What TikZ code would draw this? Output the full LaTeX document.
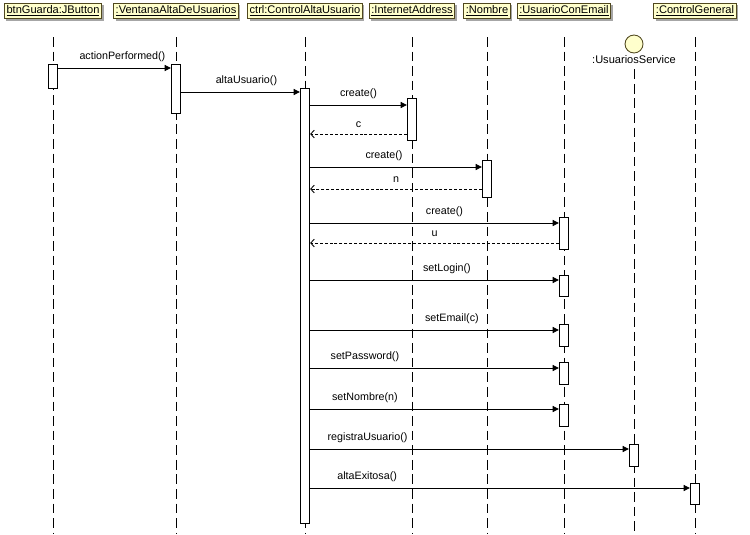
\documentclass[tikz,border=0pt]{standalone}
\usepackage{fontspec}
\setmainfont{Liberation Sans}
\usepackage{tikz}
\usetikzlibrary{arrows.meta, shadows, positioning}

\definecolor{hdrfill}{RGB}{255,255,204}
\definecolor{hdrline}{RGB}{80,72,30}

\begin{document}
\begin{tikzpicture}[x=0.02cm, y=-0.02cm,
    obj/.style={rectangle, draw=hdrline, fill=hdrfill, line width=0.5pt, minimum height=0.3cm, inner sep=1.2pt, font=\fontsize{6.3}{7}\selectfont, drop shadow={shadow xshift=0.04cm, shadow yshift=-0.04cm, fill=gray!70, opacity=1}},
    act/.style={rectangle, draw, fill=white, line width=0.5pt, minimum width=0.19cm, minimum height=#1, inner sep=0},
    life/.style={dash pattern=on 5.5pt off 2.8pt, line width=0.5pt},
    call/.style={-{Triangle[length=3.5pt,width=3.5pt]}, line width=0.5pt},
    ret/.style={-{Straight Barb[length=2pt,width=4.5pt]}, dash pattern=on 1.7pt off 1.1pt, line width=0.5pt},
    msg/.style={above=3pt, inner sep=0.5pt, font=\fontsize{6.1}{7}\selectfont}
]
\useasboundingbox (0,0) rectangle (750,534);

% objects
\node[obj] (btn) at (53,11) {\underline{btnGuarda:JButton}};
\node[obj] (ventana) at (176,11) {\underline{:VentanaAltaDeUsuarios}};
\node[obj] (ctrl) at (305,11) {\underline{ctrl:ControlAltaUsuario}};
\node[obj] (inet) at (412,11) {\underline{:InternetAddress}};
\node[obj] (nombre) at (487,11) {\underline{:Nombre}};
\node[obj] (usuario) at (564,11) {\underline{:UsuarioConEmail}};
\node[obj] (general) at (695,11) {\underline{:ControlGeneral}};
\node[circle, draw=hdrline, fill=hdrfill, line width=0.5pt, minimum size=0.36cm, inner sep=0] (service) at (634,44) {};
\node[below=0pt of service, inner sep=1pt, font=\fontsize{6.3}{7}\selectfont] (servicelbl) {:UsuariosService};

% lifelines
\coordinate (top) at (0,37);
\coordinate (bot) at (0,534);
\foreach \o in {btn,ventana,ctrl,inet,nombre,usuario,general}
    \draw[life] (\o |- top) -- (\o |- bot);
\draw[life] ([yshift=-2pt]servicelbl.south) -- (servicelbl |- bot);

% activations
\node[act=0.48cm] (a1) at (53,76) {};
\node[act=0.98cm] (a2) at (176,88.5) {};
\node[act=8.7cm] (a3) at (305,305.5) {};
\node[act=0.84cm] (a4) at (412,119) {};
\node[act=0.74cm] (a5) at (487,178.5) {};
\node[act=0.64cm] (a6) at (564,233) {};
\node[act=0.42cm] (a7) at (564,285.5) {};
\node[act=0.44cm] (a8) at (564,335) {};
\node[act=0.44cm] (a9) at (564,373) {};
\node[act=0.44cm] (a10) at (564,415) {};
\node[act=0.44cm] (a11) at (634,455) {};
\node[act=0.42cm] (a12) at (695,493.5) {};

% messages
\foreach \n/\y in {m1/68, m2/92, m3/105, r3/134, m4/167, r4/189, m5/223, r5/243, m6/280, m7/330, m8/368, m9/409, m10/449, m11/488}
    \coordinate (\n) at (0,\y);

\draw[call] (a1.east |- m1) -- node[msg, pos=0.57]{actionPerformed()} (a2.west |- m1);
\draw[call] (a2.east |- m2) -- node[msg, pos=0.55]{altaUsuario()} (a3.west |- m2);
\draw[call] (a3.east |- m3) -- node[msg]{create()} (a4.west |- m3);
\draw[ret] (a4.west |- r3) -- node[msg]{c} (a3.east |- r3);
\draw[call] (a3.east |- m4) -- node[msg, pos=0.43]{create()} (a5.west |- m4);
\draw[ret] (a5.west |- r4) -- node[msg]{n} (a3.east |- r4);
\draw[call] (a3.east |- m5) -- node[msg, pos=0.54]{create()} (a6.west |- m5);
\draw[ret] (a6.west |- r5) -- node[msg]{u} (a3.east |- r5);
\draw[call] (a3.east |- m6) -- node[msg, pos=0.55]{setLogin()} (a7.west |- m6);
\draw[call] (a3.east |- m7) -- node[msg, pos=0.57]{setEmail(c)} (a8.west |- m7);
\draw[call] (a3.east |- m8) -- node[msg, pos=0.22]{setPassword()} (a9.west |- m8);
\draw[call] (a3.east |- m9) -- node[msg, pos=0.22]{setNombre(n)} (a10.west |- m9);
\draw[call] (a3.east |- m10) -- node[msg, pos=0.18]{registraUsuario()} (a11.west |- m10);
\draw[call] (a3.east |- m11) -- node[msg, pos=0.15]{altaExitosa()} (a12.west |- m11);
\end{tikzpicture}
\end{document}
